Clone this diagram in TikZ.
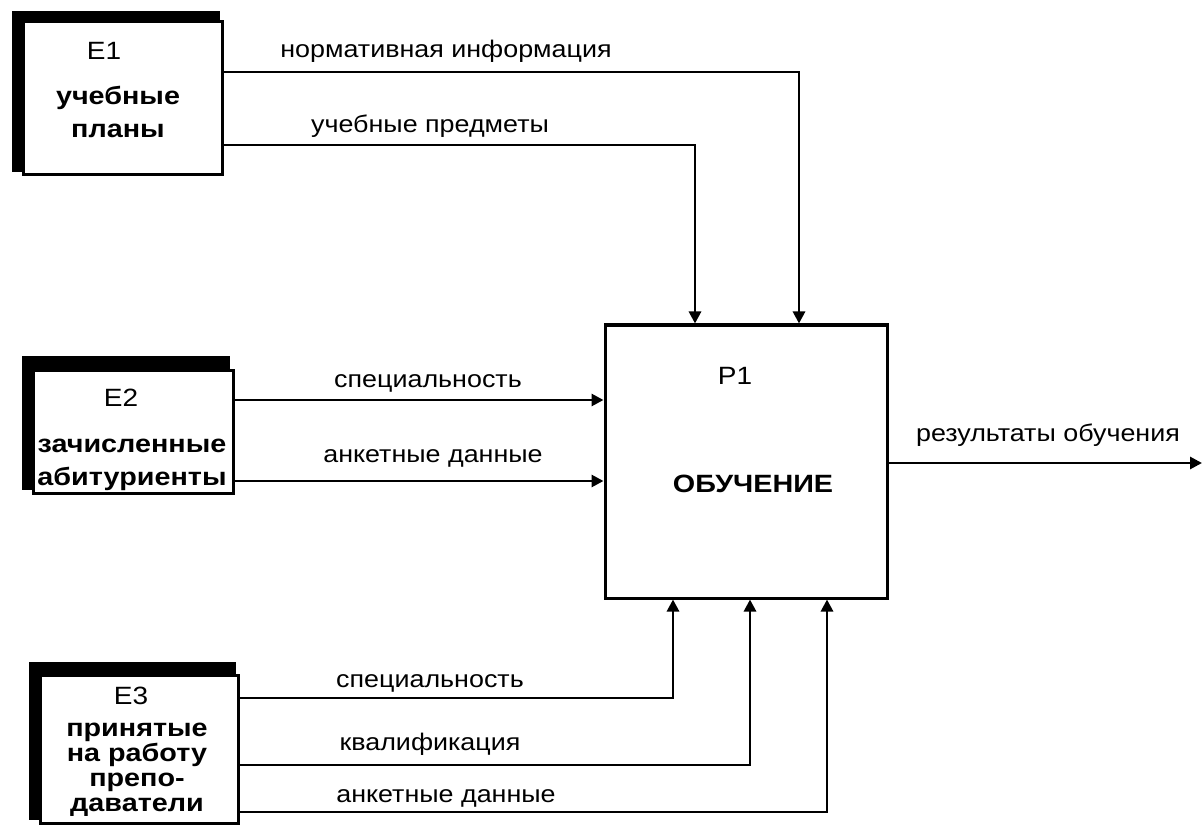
\documentclass[tikz,border=0pt]{standalone}
\usepackage{fontspec}
\setmainfont{Liberation Sans}
\newfontfamily\labfont[FakeStretch=1.12]{Liberation Sans}
\newfontfamily\boxfont[FakeStretch=1.15]{Liberation Sans}
\usetikzlibrary{arrows.meta}
\begin{document}
\begin{tikzpicture}[x=1pt,y=-1pt,
  flow/.style={line width=2.8pt,-{Triangle[length=12pt,width=12pt]}},
  lab/.style={font=\labfont\fontsize{24}{26}\selectfont,anchor=base,inner sep=0pt},
  ent/.style={draw,line width=3pt,fill=white,inner sep=0pt},
  shadow/.style={fill=black},
  etxt/.style={align=center,inner sep=0pt,anchor=base},
  btxt/.style={font=\boxfont\bfseries\fontsize{25}{25}\selectfont}]
\useasboundingbox (0,0) rectangle (1202,826);
% E1
\fill[shadow] (12,11) rectangle (220,172);
\draw[ent] (23,22) rectangle (222,175);
\coordinate (e1a) at (222,72);
\coordinate (e1b) at (222,145);
\node[etxt,font=\labfont\fontsize{25}{25}\selectfont] (e1id) at (104,60) {E1};
\node[etxt,btxt] (e1t) at (118,105) {учебные};
\node[etxt,btxt] (e1u) at (118,138) {планы};
% E2
\fill[shadow] (22,356) rectangle (230,490);
\draw[ent] (33,370) rectangle (233,493);
\coordinate (e2a) at (233,400);
\coordinate (e2b) at (233,481);
\node[etxt,font=\labfont\fontsize{25}{25}\selectfont] (e2id) at (121,406) {E2};
\node[etxt,btxt] (e2t) at (132,452) {зачисленные};
\node[etxt,btxt] (e2u) at (132,485) {абитуриенты};
% E3
\fill[shadow] (29,662) rectangle (236,820);
\draw[ent] (40,675) rectangle (238,823);
\coordinate (e3a) at (238,698);
\coordinate (e3b) at (238,765);
\coordinate (e3c) at (238,812);
\node[etxt,font=\labfont\fontsize{25}{25}\selectfont] (e3id) at (131,704) {E3};
\node[etxt,btxt] (e3t) at (137,736) {принятые};
\node[etxt,btxt] (e3u) at (137,761) {на работу};
\node[etxt,btxt] (e3v) at (137,786) {препо-};
\node[etxt,btxt] (e3w) at (137,811) {даватели};
% P1
\node[draw,line width=3pt,minimum width=282pt,minimum height=273pt,inner sep=0pt] (p1) at (746,461.5) {};
\node[etxt,font=\labfont\fontsize{25}{25}\selectfont] (p1id) at (735,384) {P1};
\node[etxt,btxt] (p1t) at (753,492) {ОБУЧЕНИЕ};
% connectors
\draw[flow] (e1a) -| (p1.north -| 799,0);
\draw[flow] (e1b) -| (p1.north -| 695,0);
\draw[flow] (e2a) -- (e2a -| p1.west);
\draw[flow] (e2b) -- (e2b -| p1.west);
\draw[flow] (e3a) -| (p1.south -| 673,0);
\draw[flow] (e3b) -| (p1.south -| 750,0);
\draw[flow] (e3c) -| (p1.south -| 827,0);
\coordinate (out) at (1202,463);
\draw[flow] (p1.east |- out) -- (out);
% labels
\node[lab] (l1) at (446,58) {нормативная информация};
\node[lab] (l2) at (430,133) {учебные предметы};
\node[lab] (l3) at (428,387) {специальность};
\node[lab] (l4) at (433,462) {анкетные данные};
\node[lab] (l5) at (1048,441) {результаты обучения};
\node[lab] (l6) at (430,687) {специальность};
\node[lab] (l7) at (430,750) {квалификация};
\node[lab] (l8) at (446,802) {анкетные данные};
\end{tikzpicture}
\end{document}
